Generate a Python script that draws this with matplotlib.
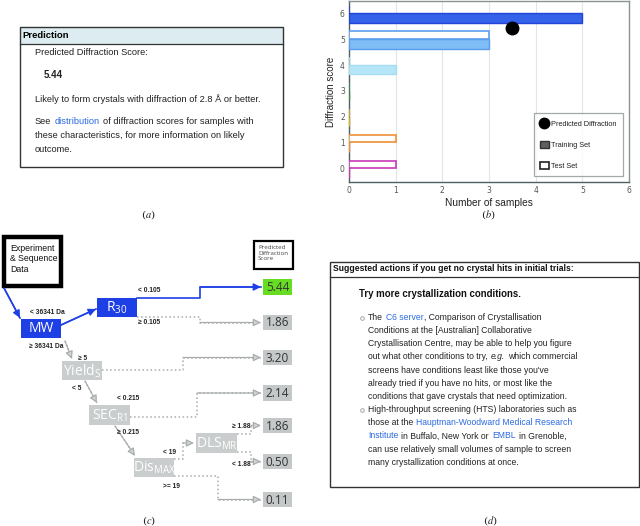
import matplotlib
matplotlib.use("Agg")
import matplotlib.pyplot as plt
from matplotlib.patches import Rectangle, Patch
from matplotlib.lines import Line2D

plt.rcParams['mathtext.fontset'] = 'custom'
plt.rcParams['mathtext.rm'] = 'Open Sans'
plt.rcParams['mathtext.it'] = 'Open Sans:italic'
plt.rcParams['mathtext.bf'] = 'Open Sans:bold'

# ---------------- data ----------------
scores = [0, 1, 2, 3, 4, 5, 6]
training_counts = [0, 0, 0, 0, 1, 3, 5]
test_counts = [1, 1, 0, 0, 0, 3, 0]
score_colors = ['#d64fc6', '#f0a050', '#e6c02c', '#5aa060', '#b4e6f8', '#7fbdf6', '#3462e8']
score_edges = ['#c838b8', '#ee9038', '#e0b010', '#3c8848', '#a8dcf2', '#5a9ef0', '#2244d8']
predicted_score = 5.44
predicted_x = 3.5
legend_labels = ['Predicted Diffraction', 'Training Set', 'Test Set']

leaf_values = ['5.44', '1.86', '3.20', '2.14', '1.86', '0.50', '0.11']
node_labels = ['MW', r'R$_{\mathrm{30}}$', r'Yield$_{\mathrm{S}}$', r'SEC$_{\mathrm{R1}}$',
               r'Dis$_{\mathrm{MAX}}$', r'DLS$_{\mathrm{MR}}$']
edge_labels = ['< 36341 Da', '≥ 36341 Da', '< 0.105', '≥ 0.105', '≥ 5', '< 5',
               '< 0.215', '≥ 0.215', '< 19', '>= 19', '≥ 1.88', '< 1.88']

W, H = 640, 526
fig = plt.figure(figsize=(6.4, 5.26), dpi=100)
ov = fig.add_axes([0, 0, 1, 1])
ov.set_xlim(0, W)
ov.set_ylim(H, 0)
ov.axis('off')

SANS = 'Liberation Sans'
BLUE_LINK = '#2a6ae0'
renderer = fig.canvas.get_renderer()


def text_width(s, **kw):
    t = ov.text(0, 0, s, **kw)
    bb = t.get_window_extent(renderer)
    t.remove()
    return bb.width


def rich(x, y, segs, size, family=SANS):
    """segments placed one after another on a baseline (pixel coords)."""
    sp = text_width('a a', fontsize=size, family=family) - text_width('aa', fontsize=size, family=family)
    xc = x
    for s, color, weight, style in segs:
        lead = len(s) - len(s.lstrip(' '))
        trail = len(s) - len(s.rstrip(' '))
        xc += lead * sp
        t = ov.text(xc, y, s.strip(' '), fontsize=size, family=family, color=color,
                    fontweight=weight, fontstyle=style, va='baseline', ha='left')
        w = t.get_window_extent(renderer).width
        xc += w + 0.6 + trail * sp


def rect(x0, y0, x1, y1, fc='none', ec='none', lw=1.0, z=2):
    ov.add_patch(Rectangle((x0, y0), x1 - x0, y1 - y0, facecolor=fc, edgecolor=ec,
                           linewidth=lw, zorder=z))


def caption(x, y, letter):
    ov.text(x, y, '($' + letter + '$)', fontsize=7.5, family='DejaVu Serif',
            math_fontfamily='stix', ha='center', va='center', color='#222222')


# ---------------- panel (a) ----------------
rect(20, 27, 283, 44, fc='#dcecf0', ec='none')
rect(20, 27, 283, 167, fc='none', ec='#333333', lw=1.0, z=3)
ov.plot([20, 283], [44, 44], color='#333333', lw=0.9, zorder=3)
ov.text(22, 38.5, 'Prediction', fontsize=6.8, family=SANS, fontweight='bold', va='baseline')
K = '#222222'
FA = 6.65
ov.text(35, 55, 'Predicted Diffraction Score:', fontsize=FA, family=SANS, color=K, va='baseline')
ov.text(44, 78, leaf_values[0], fontsize=7.0, family=SANS, fontweight='bold', color=K, va='baseline')
ov.text(35, 101.5, 'Likely to form crystals with diffraction of 2.8 Å or better.',
        fontsize=FA, family=SANS, color=K, va='baseline')
rich(35, 124, [('See ', K, 'normal', 'normal'), ('distribution', BLUE_LINK, 'normal', 'normal'),
               (' of diffraction scores for samples with', K, 'normal', 'normal')], FA)
ov.text(35, 138, 'these characteristics, for more information on likely',
        fontsize=FA, family=SANS, color=K, va='baseline')
ov.text(35, 152, 'outcome.', fontsize=FA, family=SANS, color=K, va='baseline')
caption(148, 215, 'a')

# ---------------- panel (b) ----------------
axb = fig.add_axes([349 / W, 1 - 182 / H, 280 / W, 181 / H])
for s, tr, te, c, e in zip(scores, training_counts, test_counts, score_colors, score_edges):
    axb.barh(s - 0.36, tr, height=0.36, align='edge', color=c, edgecolor=e, linewidth=1.0, zorder=3)
    axb.barh(s, te, height=0.3, align='edge', color='white', edgecolor=e, linewidth=1.2, zorder=3)
axb.plot([predicted_x], [predicted_score], 'o', color='black', ms=9, zorder=5)
axb.set_xlim(0, 6)
axb.set_ylim(-0.53, 6.48)
axb.set_xticks(range(0, 7))
axb.set_yticks(scores)
axb.grid(axis='x', color='#e4e4e4', lw=0.8, zorder=0)
axb.tick_params(labelsize=5.5, colors='#555555', length=0, pad=3)
for sp in axb.spines.values():
    sp.set_color('#8a9494')
    sp.set_linewidth(1.0)
axb.spines['left'].set_color('#506060')
axb.spines['bottom'].set_color('#506060')
axb.set_xlabel('Number of samples', fontsize=7.3, family=SANS, color='#222222', labelpad=2)
axb.set_ylabel('Diffraction score', fontsize=7, family=SANS, color='#222222', labelpad=3)
handles = [Line2D([], [], marker='o', color='black', ls='none', ms=7.5),
           Patch(facecolor='#606060', edgecolor='#333333'),
           Patch(facecolor='white', edgecolor='#222222', linewidth=1.2)]
leg = axb.legend(handles, legend_labels, loc='lower right',
                 bbox_to_anchor=((623 - 349) / 280, (182 - 176) / 181),
                 frameon=True, fancybox=False, edgecolor='#8a9494',
                 labelspacing=1.75, handlelength=1.15, handleheight=1.15, handletextpad=0.35,
                 borderpad=0.85, borderaxespad=0,
                 prop={'family': SANS, 'size': 5.3})
leg.get_frame().set_linewidth(0.9)
for t in leg.get_texts():
    t.set_color('#222222')
caption(488, 215, 'b')

# ---------------- panel (c) ----------------
NB = '#1f3fe6'
GN = '#c9cdcd'
LF = '#c4c8c8'
TF = 'Open Sans'
# experiment box
rect(4, 237, 61, 286, fc='white', ec='black', lw=3.2, z=3)
ov.text(10, 244, 'Experiment\n& Sequence\nData', fontsize=6.3, family=SANS, va='top',
        linespacing=1.2, color='#111111')
# predicted score box
rect(254, 241, 293, 269, fc='white', ec='black', lw=1.6, z=3)
ov.text(258, 245, 'Predicted\nDiffraction\nScore', fontsize=4.4, family=TF, va='top',
        linespacing=1.15, color='#444444')

# internal nodes: (x0, y0, x1, y1, fill)
nodes = [(21, 319, 61, 338, NB), (97, 298, 137, 317, NB), (62, 361, 102, 380, GN),
         (89, 405, 130, 425, GN), (134, 458, 174, 477, GN), (196, 433, 237, 453, GN)]
for (x0, y0, x1, y1, fc), lab in zip(nodes, node_labels):
    rect(x0, y0, x1, y1, fc=fc, z=3)
    ov.text((x0 + x1) / 2, (y0 + y1) / 2 + 0.5, lab, fontsize=10, family=TF, color='white',
            ha='center', va='center', zorder=4)

# leaves
leaf_y = [(279, 295), (315, 330), (350, 365), (385, 401), (418, 433), (454, 469), (492, 507)]
for i, ((y0, y1), v) in enumerate(zip(leaf_y, leaf_values)):
    fc = '#66dd22' if i == 0 else LF
    rect(263, y0, 292, y1, fc=fc, z=3)
    ov.text(277.5, (y0 + y1) / 2 + 0.5, v, fontsize=8.5, family=TF, color='#333333',
            ha='center', va='center', zorder=4)


def path(pts, color, ls, lw, arrow_fc):
    xs = [p[0] for p in pts]
    ys = [p[1] for p in pts]
    ov.plot(xs, ys, color=color, ls=ls, lw=lw, zorder=2)
    ov.annotate('', xy=pts[-1], xytext=pts[-2],
                arrowprops=dict(arrowstyle='-|>,head_length=0.45,head_width=0.22',
                                color=color, fc=arrow_fc, lw=lw * 0.8, shrinkA=0, shrinkB=0),
                zorder=3)


GL = '#a8acac'
GA = '#d0d4d4'
# blue path
path([(4, 288), (20, 318)], NB, '-', 1.2, NB)
path([(61, 325), (96, 309)], NB, '-', 1.2, NB)
path([(137, 297.5), (200, 297.5), (200, 287), (261, 287)], NB, '-', 1.2, NB)
# dotted paths
path([(137, 316.5), (200, 316.5), (200, 322.5), (261, 322.5)], GL, ':', 1.1, GA)
path([(65, 341), (72, 359)], GL, ':', 1.1, GA)
path([(102, 370), (183, 370), (183, 357.5), (261, 357.5)], GL, ':', 1.1, GA)
path([(85, 381), (97, 403)], GL, ':', 1.1, GA)
path([(130, 417), (197, 417), (197, 393), (261, 393)], GL, ':', 1.1, GA)
path([(115, 426), (135, 456)], GL, ':', 1.1, GA)
path([(174, 459), (183, 459), (183, 443), (194, 443)], GL, ':', 1.1, GA)
path([(174, 476), (218, 476), (218, 499.5), (261, 499.5)], GL, ':', 1.1, GA)
path([(237, 434), (251, 434), (251, 425.5), (261, 425.5)], GL, ':', 1.1, GA)
path([(237, 452), (251, 452), (251, 461.5), (261, 461.5)], GL, ':', 1.1, GA)

edge_pos = [(30, 312), (29, 347), (138, 290), (138, 323), (78, 358), (72, 388),
            (117, 399), (117, 432), (163, 453), (163, 487), (232, 427), (232, 464)]
for (x, y), lab in zip(edge_pos, edge_labels):
    ov.text(x, y, lab, fontsize=4.8, family=SANS, fontweight='bold', color='#222222',
            va='center', ha='left')
caption(149, 521, 'c')

# ---------------- panel (d) ----------------
rect(330, 262, 639, 487, fc='none', ec='#333333', lw=1.0, z=3)
ov.plot([330, 639], [277, 277], color='#333333', lw=0.9, zorder=3)
ov.text(333, 271, 'Suggested actions if you get no crystal hits in initial trials:',
        fontsize=6.25, family=SANS, fontweight='bold', va='baseline', color='#111111')
ov.text(359, 297, 'Try more crystallization conditions.', fontsize=6.9, family=SANS,
        fontweight='bold', va='baseline', color='#111111')
N = ('#222222', 'normal', 'normal')
B = (BLUE_LINK, 'normal', 'normal')
I = ('#222222', 'normal', 'italic')
d_lines = [
    [('The ',) + N, ('C6 server',) + B, (', Comparison of Crystallisation',) + N],
    [('Conditions at the [Australian] Collaborative',) + N],
    [('Crystallisation Centre, may be able to help you figure',) + N],
    [('out what other conditions to try, ',) + N, ('e.g.',) + I, (' which commercial',) + N],
    [("screens have conditions least like those you've",) + N],
    [('already tried if you have no hits, or most like the',) + N],
    [('conditions that gave crystals that need optimization.',) + N],
    [('High-throughput screening (HTS) laboratories such as',) + N],
    [('those at the ',) + N, ('Hauptman-Woodward Medical Research',) + B],
    [('Institute',) + B, (' in Buffalo, New York or ',) + N, ('EMBL',) + B, (' in Grenoble,',) + N],
    [('can use relatively small volumes of sample to screen',) + N],
    [('many crystallization conditions at once.',) + N],
]
for i, segs in enumerate(d_lines):
    yb = 320 + 13.15 * i
    rich(368, yb, segs, 6.25)
for i in (0, 7):
    ov.plot([361.5], [320 + 13.15 * i - 2.3], 'o', ms=2.6, mfc='white', mec='#999999', mew=0.6)
caption(490, 521, 'd')

fig.savefig('out.png', dpi=100)
